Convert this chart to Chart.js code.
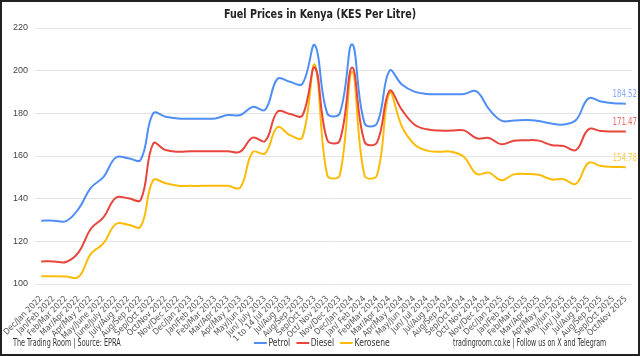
<!DOCTYPE html>
<html><head><meta charset="utf-8">
<script src="https://cdn.jsdelivr.net/npm/chart.js@4/dist/chart.umd.min.js"></script>
<style>
html,body{margin:0;padding:0;background:#fff;}
#wrap{position:relative;width:640px;height:356px;overflow:hidden;background:#fff;}
#frame{position:absolute;left:0;top:0;width:640px;height:356px;box-sizing:border-box;border:2px solid #222;}
#c{position:absolute;left:0;top:0;}
.t{position:absolute;font-family:"Liberation Sans Narrow","DejaVu Sans Condensed",sans-serif;color:#333;font-size:10px;white-space:nowrap;line-height:12px;}
#title{left:0;width:640px;text-align:center;top:6px;font-size:13px;font-weight:bold;color:#222;line-height:16px;transform:scaleX(0.82);transform-origin:320px 0;}
#src{left:13px;top:337px;transform:scaleX(0.72);transform-origin:0 0;}
#site{left:453px;top:337px;transform:scaleX(0.7);transform-origin:0 0;}
#legend{position:absolute;left:254px;top:337px;display:flex;align-items:center;font-family:"Liberation Sans Narrow","DejaVu Sans Condensed",sans-serif;font-size:10px;color:#333;line-height:12px;white-space:nowrap;transform:scaleX(0.85);transform-origin:0 0;}
#legend .sw{display:inline-block;width:15px;height:2px;margin-right:2px;}
#legend .it{display:flex;align-items:center;margin-right:7px;}
</style></head><body>
<div id="wrap"><div id="frame"></div><canvas id="c" width="640" height="356"></canvas>
<div class="t" id="title">Fuel Prices in Kenya (KES Per Litre)</div>
<div class="t" id="src">The Trading Room | Source: EPRA</div>
<div id="legend"></div>
<div class="t" id="site">tradingroom.co.ke | Follow us on X and Telegram</div>
</div>
<script>
const categories = ["Dec/Jan 2022","Jan/Feb 2022","Feb/Mar 2022","Mar/Apr 2022","Apr/May 2022","May/June 2022","June/July 2022","July/Aug 2022","Aug/Sep 2022","Sep/Oct 2022","Oct/Nov 2022","Nov/Dec 2022",
"Dec/Jan 2023","Jan/Feb 2023","Feb/Mar 2023","Mar/Apr 2023","Apr/May 2023","May/Jun 2023","Jun/ July 2023","1 to 14 Jul 2023","Jul/Aug 2023","Aug/Sep 2023","Sep/Oct 2023","Oct/ Nov 2023","Nov/Dec 2023",
"Dec/Jan 2024","Jan/ Feb 2024","Feb/Mar 2024","Mar/Apr 2024","Apr/May 2024","May/Jun 2024","Jun/ Jul 2024","Jul/Aug 2024","Aug/Sep 2024","Sep/Oct 2024","Oct/ Nov 2024","Nov/Dec 2024",
"Dec/Jan 2025","Jan/Feb 2025","Feb/Mar 2025","Mar/Apr 2025","Apr/May 2025","May/Jun 2025","Jun/ Jul 2025","Jul/Aug 2025","Aug/Sep 2025","Sep/Oct 2025","Oct/Nov 2025"];

const petrol = [129.7,129.7,129.5,135.2,145.2,150.1,159.3,159.0,158.2,180.0,178.4,177.6,
177.5,177.5,177.6,179.2,179.2,183.0,181.6,196.2,194.8,193.8,212.0,180.0,180.0,
212.4,175.3,175.3,200.0,193.5,190.2,189.1,189.0,189.0,189.1,190.3,182.0,
176.6,176.6,176.9,176.4,175.2,174.8,176.9,187.0,185.5,184.7,184.52];

const diesel = [110.6,110.6,110.3,114.8,126.0,131.2,140.4,140.2,139.4,165.8,162.8,162.0,
162.2,162.2,162.2,162.2,162.0,168.6,167.0,180.8,179.7,179.0,201.5,167.5,167.2,
201.5,166.6,166.4,190.5,181.6,174.8,172.5,171.9,171.9,172.0,168.3,168.4,
165.5,167.2,167.4,167.2,165.2,164.7,162.8,172.5,171.7,171.5,171.47];

const kerosene = [103.6,103.6,103.5,103.3,114.2,119.0,128.1,127.8,126.9,148.6,147.2,146.1,
146.0,146.0,146.0,146.0,145.2,161.8,161.2,173.6,169.8,168.7,202.8,151.0,151.0,
199.5,150.8,151.0,189.5,173.8,165.5,162.5,162.0,162.0,159.5,151.6,152.2,
148.6,151.4,151.6,151.2,149.1,149.1,147.0,156.8,155.3,154.9,154.78];

const seriesNames = ["Petrol","Diesel","Kerosene"];
const seriesColors = ["#4f8ef5","#e8453c","#fbbc09"];
const labelColors = ["#7faaf5","#ea6a62","#fccb4a"];
const yTicks = [100,120,140,160,180,200,220];

const FONT = '"Liberation Sans Narrow","DejaVu Sans Condensed",sans-serif';

const endLabels = {
  id:'endLabels',
  afterDatasetsDraw(chart){
    const ctx = chart.ctx;
    chart.data.datasets.forEach((ds,i)=>{
      const meta = chart.getDatasetMeta(i);
      const pt = meta.data[meta.data.length-1];
      ctx.save();
      ctx.font = '10px ' + FONT;
      ctx.textAlign = 'right';
      ctx.textBaseline = 'middle';
      ctx.fillStyle = labelColors[i];
      ctx.translate(637, pt.y - 9);
      ctx.scale(0.78, 1);
      ctx.fillText(ds.data[ds.data.length-1].toFixed(2), 0, 0);
      ctx.restore();
    });
  }
};

const allSeries = [petrol, diesel, kerosene];
new Chart(document.getElementById('c'), {
  type:'line',
  data:{
    labels: categories,
    datasets: allSeries.map((d,i)=>({
      label: seriesNames[i], data: d, borderColor: seriesColors[i], backgroundColor: seriesColors[i],
      borderWidth: 2, pointRadius: 0, tension: 0.4, fill: false
    }))
  },
  options:{
    responsive:false, animation:false, devicePixelRatio:1,
    layout:{padding:{top:28,right:8,left:0,bottom:0}},
    plugins:{legend:{display:false}, title:{display:false}, tooltip:{enabled:false}},
    scales:{
      x:{
        offset:true,
        grid:{display:false},
        border:{display:false},
        ticks:{autoSkip:false,minRotation:45,maxRotation:45,font:{size:8.5,family:FONT},color:'#555',padding:2},
        afterFit(s){ s.height = 72; }
      },
      y:{
        min:100,max:220,
        afterBuildTicks(s){ s.ticks = yTicks.map(v=>({value:v})); },
        grid:{color:'#e4e4e4',drawTicks:false},
        border:{display:false},
        ticks:{font:{size:9,family:'"Liberation Sans",sans-serif'},color:'#444',padding:7},
        afterFit(s){ s.width = 35; }
      }
    }
  },
  plugins:[endLabels]
});

const lg = document.getElementById('legend');
seriesNames.forEach((n,i)=>{
  const it = document.createElement('span'); it.className='it';
  const sw = document.createElement('span'); sw.className='sw'; sw.style.background=seriesColors[i];
  it.appendChild(sw); it.appendChild(document.createTextNode(n)); lg.appendChild(it);
});
</script>
</body></html>
